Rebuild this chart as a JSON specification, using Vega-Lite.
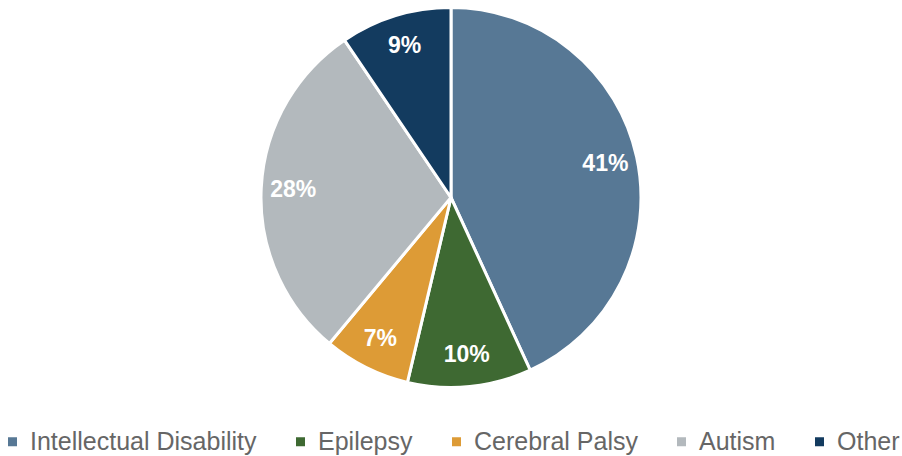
{
  "$schema": "https://vega.github.io/schema/vega-lite/v6.json",
  "width": 902,
  "height": 395,
  "padding": {"left": 0, "top": 0, "right": 0, "bottom": 0},
  "background": "white",
  "config": {"view": {"stroke": null}},
  "data": {
    "values": [
      {"category": "Intellectual Disability", "value": 41, "label": "41%"},
      {"category": "Epilepsy", "value": 10, "label": "10%"},
      {"category": "Cerebral Palsy", "value": 7, "label": "7%"},
      {"category": "Autism", "value": 28, "label": "28%"},
      {"category": "Other", "value": 9, "label": "9%"}
    ]
  },
  "transform": [{"window": [{"op": "row_number", "as": "idx"}]}],
  "encoding": {
    "theta": {"field": "value", "type": "quantitative", "stack": true},
    "order": {"field": "idx", "type": "quantitative"},
    "color": {
      "field": "category",
      "type": "nominal",
      "sort": ["Intellectual Disability", "Epilepsy", "Cerebral Palsy", "Autism", "Other"],
      "scale": {
        "domain": ["Intellectual Disability", "Epilepsy", "Cerebral Palsy", "Autism", "Other"],
        "range": ["#577895", "#3E6932", "#DD9B36", "#B3B9BD", "#133B5F"]
      },
      "legend": {
        "title": null,
        "orient": "bottom",
        "direction": "horizontal",
        "columns": 5,
        "symbolType": "square",
        "symbolSize": 81,
        "symbolStrokeWidth": 0,
        "labelFont": "Liberation Sans",
        "labelFontSize": 25,
        "labelColor": "#666666",
        "labelOffset": 5,
        "columnPadding": 31,
        "labelLimit": 400,
        "offset": 34
      }
    }
  },
  "layer": [
    {
      "mark": {"type": "arc", "outerRadius": 190, "stroke": "white", "strokeWidth": 3}
    },
    {
      "mark": {"type": "text", "radius": 158, "font": "Liberation Sans", "fontSize": 23, "fontWeight": "bold", "fill": "white", "baseline": "middle", "align": "center"},
      "encoding": {
        "text": {"field": "label", "type": "nominal"},
        "color": {"value": "white"}
      }
    }
  ]
}
